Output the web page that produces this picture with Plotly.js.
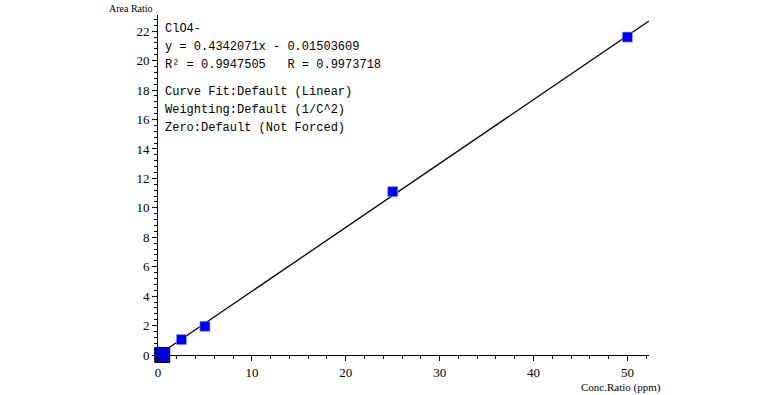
<!DOCTYPE html>
<html><head><meta charset="utf-8">
<script src="https://cdn.plot.ly/plotly-3.0.1.min.js"></script>
<style>body{margin:0;background:#fff}#c{width:757px;height:395px}</style>
</head><body><div id="c"></div>
<script>
const concRatio = [2.5, 5, 25, 50];
const areaRatio = [1.05, 1.95, 11.1, 21.6];
const lowConc = [0.45];
const lowArea = [0.0];
const slope = 0.4342071, intercept = -0.01503609;
const fitX = [0.3, 52.3];
const fitY = fitX.map(x => slope * x + intercept);
const infoLines = ["ClO4-", "y = 0.4342071x - 0.01503609", "R² = 0.9947505   R = 0.9973718", "Curve Fit:Default (Linear)", "Weighting:Default (1/C^2)", "Zero:Default (Not Forced)"];
const infoPixelY = [29, 47, 65, 92, 110, 128];

const tickFont = {family: "Liberation Serif, serif", size: 13, color: "#000"};
const data = [
  {x: fitX, y: fitY, mode: "lines", line: {color: "#000", width: 1.3}, hoverinfo: "skip", cliponaxis: false},
  {x: concRatio, y: areaRatio, mode: "markers", marker: {symbol: "square", size: 10, color: "#0000ff", line: {color: "#8fa0ff", width: 0.5}}, cliponaxis: false},
  {x: lowConc, y: lowArea, mode: "markers", marker: {symbol: "square", size: 15, color: "#0000e0", line: {color: "#000", width: 1}}, cliponaxis: false}
];
const plotTop = 15, plotH = 340;
const annotations = infoLines.map((t, i) => ({
  xref: "paper", yref: "paper", x: 0.01, y: (plotTop + plotH - infoPixelY[i]) / plotH,
  xanchor: "left", yanchor: "middle", align: "left", showarrow: false,
  text: t, font: {family: "Liberation Mono, monospace", size: 12, color: "#000"}
}));
annotations.push(
  {xref: "paper", yref: "paper", x: -0.104, y: (plotTop + plotH - 8) / plotH, xanchor: "left", yanchor: "middle", showarrow: false,
   text: "Area Ratio", font: {family: "Liberation Serif, serif", size: 10, color: "#000"}},
  {xref: "paper", yref: "paper", x: 1.0285, y: (plotTop + plotH - 387) / plotH, xanchor: "right", yanchor: "middle", showarrow: false,
   text: "Conc.Ratio (ppm)", font: {family: "Liberation Serif, serif", size: 11, color: "#000"}}
);
const layout = {
  width: 757, height: 395, showlegend: false,
  paper_bgcolor: "#fff", plot_bgcolor: "#fff",
  margin: {l: 158, r: 108, t: plotTop, b: 40},
  xaxis: {range: [0, 52.3], tickvals: [0,10,20,30,40,50], showgrid: false, zeroline: false,
    showline: true, linecolor: "#000", linewidth: 1, ticks: "outside", ticklen: 5, tickcolor: "#000",
    tickfont: tickFont, minor: {tickvals: [2,4,6,8,12,14,16,18,22,24,26,28,32,34,36,38,42,44,46,48,52], ticks: "outside", ticklen: 3, tickcolor: "#000"}},
  yaxis: {range: [0, 23.1], tickvals: [0,2,4,6,8,10,12,14,16,18,20,22], showgrid: false, zeroline: false,
    showline: true, linecolor: "#000", linewidth: 1, ticks: "outside", ticklen: 5, tickcolor: "#000",
    tickfont: tickFont, minor: {dtick: 0.4, ticks: "outside", ticklen: 3, tickcolor: "#000"}},
  annotations: annotations
};
Plotly.newPlot("c", data, layout, {displayModeBar: false, staticPlot: true});
</script></body></html>
